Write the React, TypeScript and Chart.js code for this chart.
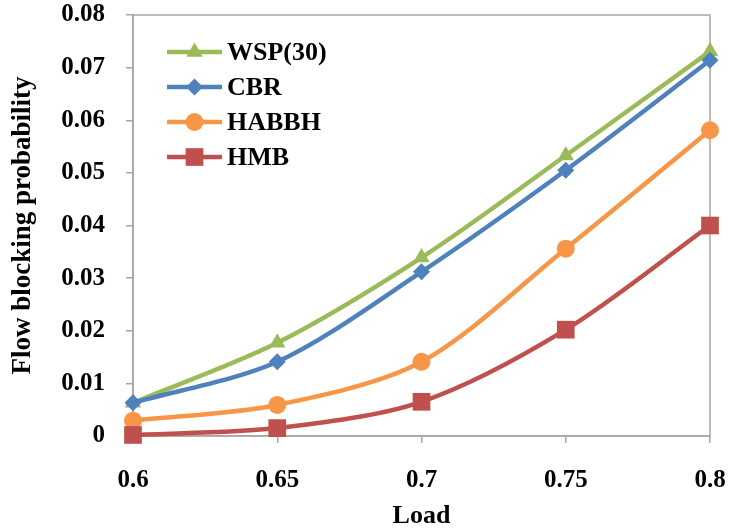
import React, { useEffect, useRef } from "react";
import { Chart, registerables } from "chart.js";

Chart.register(...registerables);

const loads = [0.6, 0.65, 0.7, 0.75, 0.8];
const wsp = [0.0063, 0.0177, 0.0339, 0.0533, 0.0731];
const cbr = [0.0063, 0.0141, 0.0312, 0.0505, 0.0714];
const habbh = [0.0029, 0.0059, 0.0141, 0.0356, 0.0581];
const hmb = [0.0002, 0.0015, 0.0065, 0.0202, 0.04];
const yTicks = [0, 0.01, 0.02, 0.03, 0.04, 0.05, 0.06, 0.07, 0.08];
const seriesNames = ["WSP(30)", "CBR", "HABBH", "HMB"];
const colors = ["#9BBB59", "#4F81BD", "#F79646", "#C0504D"];

const FONT = "'Liberation Serif', 'Times New Roman', serif";

function drawMarker(ctx: CanvasRenderingContext2D, style: string, r: number, x: number, y: number) {
  ctx.beginPath();
  if (style === "triangle") {
    ctx.moveTo(x, y - r);
    ctx.lineTo(x + r * 0.866, y + r * 0.5);
    ctx.lineTo(x - r * 0.866, y + r * 0.5);
    ctx.closePath();
  } else if (style === "rectRot") {
    ctx.moveTo(x, y - r);
    ctx.lineTo(x + r, y);
    ctx.lineTo(x, y + r);
    ctx.lineTo(x - r, y);
    ctx.closePath();
  } else if (style === "circle") {
    ctx.arc(x, y, r, 0, Math.PI * 2);
  } else {
    const s = r * Math.SQRT1_2;
    ctx.rect(x - s, y - s, 2 * s, 2 * s);
  }
  ctx.fill();
}

const legendPlugin = {
  id: "lineLegend",
  afterDraw(chart: any) {
    const ctx = chart.ctx;
    const x0 = 167;
    const x1 = 222;
    const ys = [52, 87, 122, 157];
    ctx.save();
    chart.data.datasets.forEach((ds: any, i: number) => {
      const y = ys[i];
      ctx.strokeStyle = ds.borderColor;
      ctx.lineWidth = ds.borderWidth;
      ctx.beginPath();
      ctx.moveTo(x0, y);
      ctx.lineTo(x1, y);
      ctx.stroke();
      const mx = (x0 + x1) / 2;
      ctx.fillStyle = ds.pointBackgroundColor;
      drawMarker(ctx, ds.pointStyle, ds.pointRadius, mx, y);
      ctx.fillStyle = "#000";
      ctx.font = `bold 26px ${FONT}`;
      ctx.textBaseline = "middle";
      ctx.textAlign = "left";
      ctx.fillText(ds.label, 227, y + 1);
    });
    ctx.restore();
  },
};

const borderPlugin = {
  id: "plotBorder",
  beforeDatasetsDraw(chart: any) {
    const { ctx, chartArea } = chart;
    ctx.save();
    ctx.strokeStyle = "#A6A6A6";
    ctx.lineWidth = 1.5;
    ctx.strokeRect(chartArea.left, chartArea.top, chartArea.right - chartArea.left, chartArea.bottom - chartArea.top);
    ctx.restore();
  },
};

function zeroPad(scale: any) {
  scale.paddingTop = 0;
  scale.paddingBottom = 0;
  scale.paddingLeft = 0;
  scale.paddingRight = 0;
}

export default function App() {
  const ref = useRef<HTMLCanvasElement>(null);
  useEffect(() => {
    if (!ref.current) return;
    const allData = [wsp, cbr, habbh, hmb];
    const styles = ["triangle", "rectRot", "circle", "rect"];
    const radii = [9.5, 8.5, 9, 12.5];
    const orders = [4, 3, 2, 1];
    const chart = new Chart(ref.current, {
      type: "line",
      data: {
        datasets: allData.map((vals, i) => ({
          label: seriesNames[i],
          data: vals.map((v, j) => ({ x: loads[j], y: v })),
          borderColor: colors[i],
          backgroundColor: colors[i],
          pointBackgroundColor: colors[i],
          pointBorderColor: colors[i],
          pointBorderWidth: 0,
          borderWidth: 4.5,
          pointStyle: styles[i],
          pointRadius: radii[i],
          tension: 0.3,
          clip: false,
          order: orders[i],
        })),
      },
      options: {
        animation: false,
        responsive: false,
        maintainAspectRatio: false,
        layout: { padding: { top: 15, right: 19, left: 0, bottom: 0 } },
        plugins: {
          legend: { display: false },
          tooltip: { enabled: false },
        },
        scales: {
          x: {
            type: "linear",
            min: 0.6,
            max: 0.8,
            afterBuildTicks(scale: any) {
              scale.ticks = loads.map((v) => ({ value: v }));
            },
            grid: { drawOnChartArea: false, drawTicks: true, tickLength: 7, color: "#A6A6A6", lineWidth: 1.5 },
            border: { display: true, color: "#A6A6A6", width: 1.5 },
            ticks: {
              color: "#000",
              font: { family: FONT, size: 25, weight: "bold" },
              padding: 23,
              maxRotation: 0,
              callback: (v: any) => String(v),
            },
            title: {
              display: true,
              text: "Load",
              color: "#000",
              font: { family: FONT, size: 26, weight: "bold" },
              padding: { top: 4, bottom: 0 },
            },
            afterFit(scale: any) {
              scale.height = 96;
              zeroPad(scale);
            },
          },
          y: {
            type: "linear",
            min: 0,
            max: 0.08,
            afterBuildTicks(scale: any) {
              scale.ticks = yTicks.map((v) => ({ value: v }));
            },
            grid: { drawOnChartArea: false, drawTicks: true, tickLength: 7, color: "#A6A6A6", lineWidth: 1.5 },
            border: { display: true, color: "#A6A6A6", width: 1.5 },
            ticks: {
              color: "#000",
              font: { family: FONT, size: 25, weight: "bold" },
              padding: 21,
              callback: (v: any) => (v === 0 ? "0" : Number(v).toFixed(2)),
            },
            title: {
              display: true,
              text: "Flow blocking probability",
              color: "#000",
              font: { family: FONT, size: 27, weight: "bold" },
              padding: { top: 7, bottom: 0 },
            },
            afterFit(scale: any) {
              scale.width = 133;
              zeroPad(scale);
            },
          },
        },
      },
      plugins: [borderPlugin, legendPlugin],
    });
    return () => chart.destroy();
  }, []);
  return (
    <div style={{ position: "absolute", left: 0, top: 0, width: 729, height: 532, background: "#fff" }}>
      <canvas ref={ref} width={729} height={532} style={{ width: 729, height: 532 }} />
    </div>
  );
}
